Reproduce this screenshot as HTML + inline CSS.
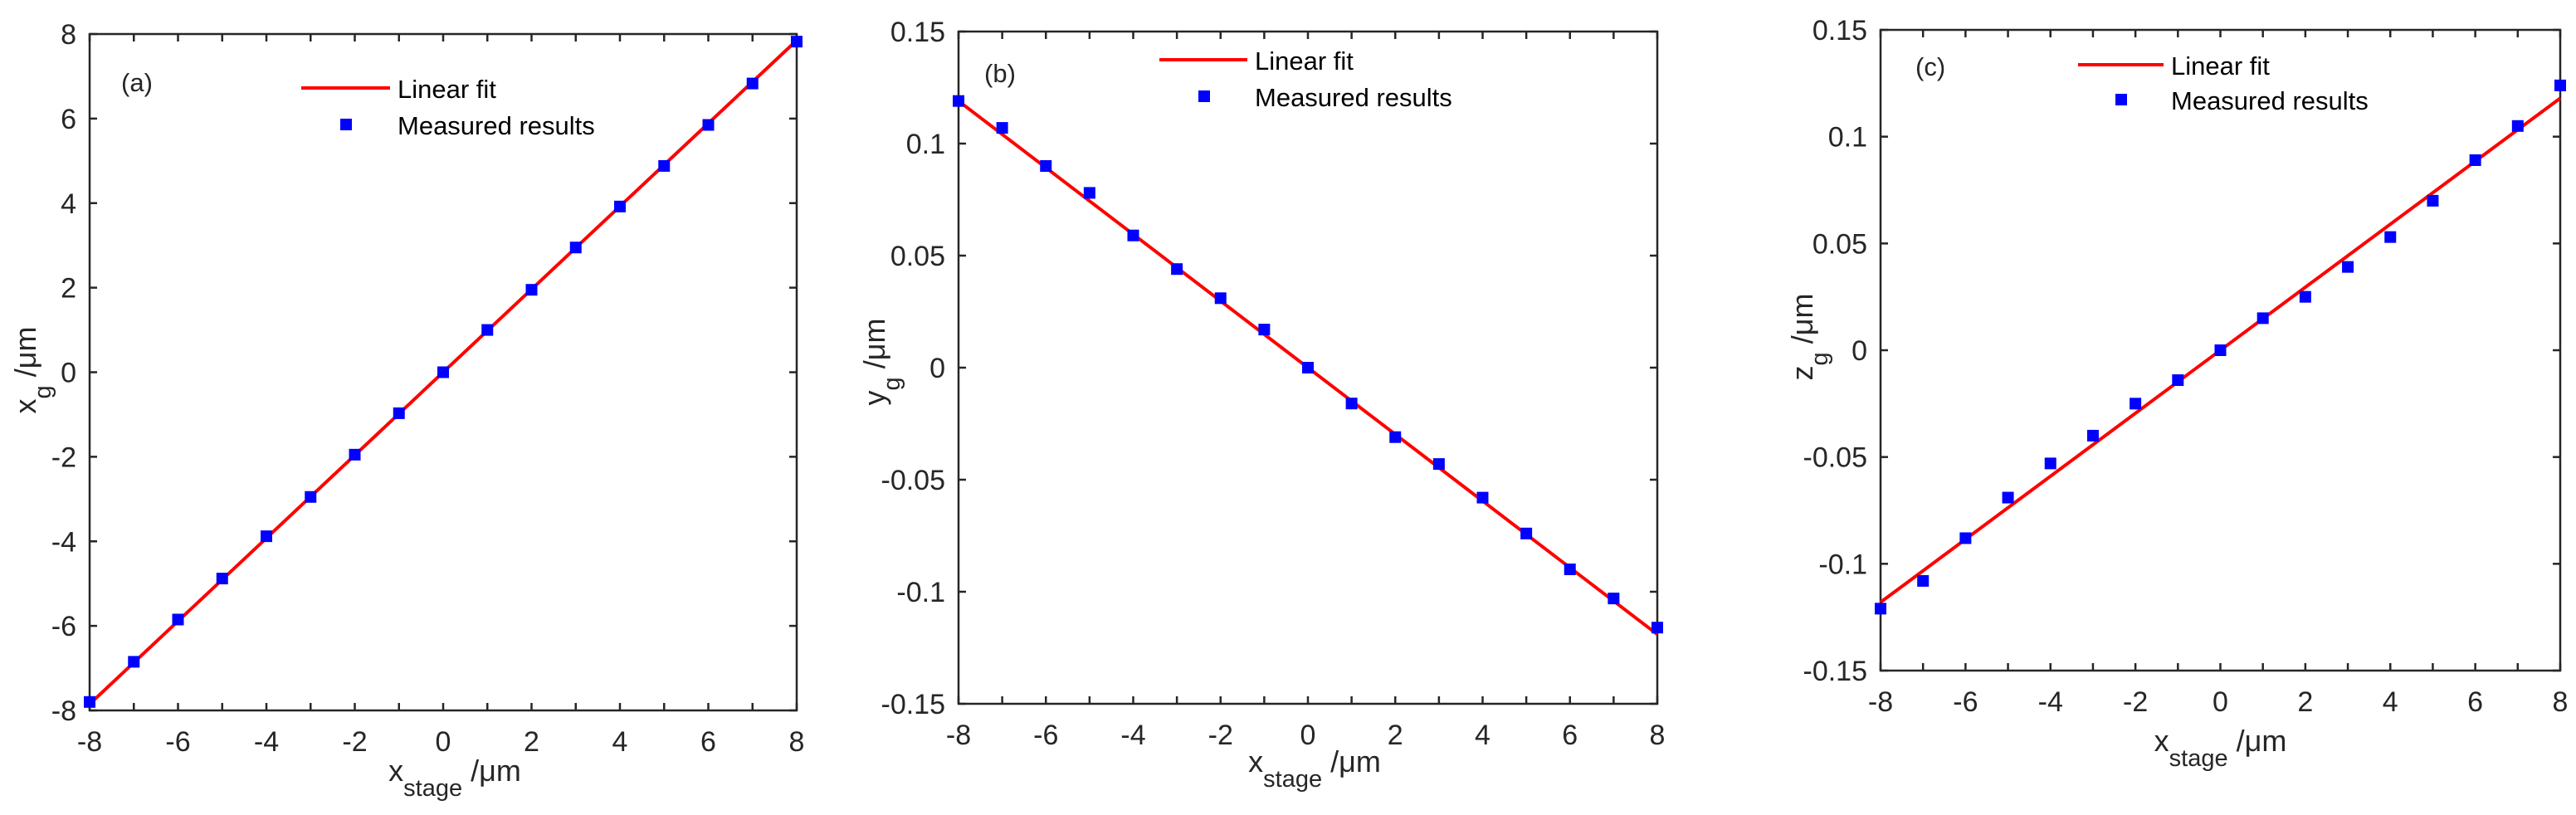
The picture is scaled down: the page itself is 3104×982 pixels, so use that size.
<!DOCTYPE html>
<html><head><meta charset="utf-8"><style>
html,body{margin:0;padding:0;background:#fff;}
svg{display:block;font-family:"Liberation Sans",Arial,sans-serif;}
</style></head><body>
<svg id="chart" width="3104" height="982" viewBox="0 0 3104 982" xmlns="http://www.w3.org/2000/svg"></svg>
<script>
const xValues = [-8,-7,-6,-5,-4,-3,-2,-1,0,1,2,3,4,5,6,7,8];
const xTickLabels = [-8,-6,-4,-2,0,2,4,6,8];
const seriesA = [-7.8,-6.85,-5.85,-4.88,-3.88,-2.95,-1.95,-0.97,0,1.0,1.95,2.95,3.92,4.88,5.85,6.83,7.82];
const fitA = [-7.85,7.85];
const yTicksA = [-8,-6,-4,-2,0,2,4,6,8];
const seriesB = [0.119,0.107,0.090,0.078,0.059,0.044,0.031,0.017,0,-0.016,-0.031,-0.043,-0.058,-0.074,-0.090,-0.103,-0.116];
const fitB = [0.119,-0.119];
const yTicksB = [-0.15,-0.1,-0.05,0,0.05,0.1,0.15];
const seriesC = [-0.121,-0.108,-0.088,-0.069,-0.053,-0.040,-0.025,-0.014,0,0.015,0.025,0.039,0.053,0.070,0.089,0.105,0.124];
const fitC = [-0.118,0.118];
const yTicksC = [-0.15,-0.1,-0.05,0,0.05,0.1,0.15];

const svg = document.getElementById('chart');
const NS = 'http://www.w3.org/2000/svg';
function mk(tag, attrs, parent){const e=document.createElementNS(NS,tag);for(const k in attrs)e.setAttribute(k,attrs[k]);(parent||svg).appendChild(e);return e;}
const C='#262626';

function panel(id, box, yMin, yMax, yTicks, pts, fit, yVar, tag, leg){
  const g = mk('g',{});
  
  
  const sx = v => box.l + (v+8)/16*(box.r-box.l);
  const sy = v => box.b - (v-yMin)/(yMax-yMin)*(box.b-box.t);
  const fmt = v => (Math.abs(v)<1e-9?0:v).toString();
  const fr = mk('rect',{x:box.l,y:box.t,width:box.r-box.l,height:box.b-box.t,fill:'none',stroke:C,'stroke-width':2.5},g);
  
  
  xValues.forEach(v=>{
    const x=sx(v);
    mk('line',{x1:x,y1:box.b,x2:x,y2:box.b-9,stroke:C,'stroke-width':2.5},g);
    mk('line',{x1:x,y1:box.t,x2:x,y2:box.t+9,stroke:C,'stroke-width':2.5},g);
  });
  xTickLabels.forEach(v=>{
    const t=mk('text',{x:sx(v),y:box.b+49,'font-size':34,fill:C,'text-anchor':'middle'},g);
    t.textContent=String(v);
    
    
  });
  yTicks.forEach(v=>{
    const y=sy(v);
    mk('line',{x1:box.l,y1:y,x2:box.l+9,y2:y,stroke:C,'stroke-width':2.5},g);
    mk('line',{x1:box.r,y1:y,x2:box.r-9,y2:y,stroke:C,'stroke-width':2.5},g);
    const t=mk('text',{x:box.l-16,y:y+12,'font-size':34,fill:C,'text-anchor':'end'},g);
    t.textContent=fmt(v);
    
    
  });
  const cx=(box.l+box.r)/2+box.xo;
  const xt=mk('text',{x:cx,y:box.b+box.xb,'font-size':36,fill:C,'text-anchor':'middle'},g);
  xt.innerHTML='x<tspan font-size="29" dy="18">stage</tspan><tspan dy="-18"> /μm</tspan>';
  
  
  const yt=mk('text',{x:0,y:0,'font-size':36,fill:C,'text-anchor':'middle',transform:`translate(${box.yl},${box.yc}) rotate(-90)`},g);
  yt.innerHTML=yVar+'<tspan font-size="29" dy="18">g</tspan><tspan dy="-18"> /μm</tspan>';
  
  
  const fl=mk('line',{x1:sx(-8),y1:sy(fit[0]),x2:sx(8),y2:sy(fit[1]),stroke:'#ff0000','stroke-width':4},g);
  
  
  pts.forEach((v,i)=>{
    const r=mk('rect',{x:sx(xValues[i])-7,y:sy(v)-7,width:14,height:14,fill:'#0000ff'},g);
    
    
  });
  const tg=mk('text',{x:leg.tx,y:leg.ty+11,'font-size':31,fill:C},g);
  tg.textContent=tag;
  
  
  const lg=mk('g',{},g);
  
  
  mk('line',{x1:leg.l1,y1:leg.y1,x2:leg.l2,y2:leg.y1,stroke:'#ff0000','stroke-width':4},lg);
  const t1=mk('text',{x:leg.txt,y:leg.y1+12,'font-size':31,fill:'#000'},lg);
  t1.textContent='Linear fit';
  
  
  mk('rect',{x:leg.mx-7,y:leg.y2-7,width:14,height:14,fill:'#0000ff'},lg);
  const t2=mk('text',{x:leg.txt,y:leg.y2+12,'font-size':31,fill:'#000'},lg);
  t2.textContent='Measured results';
  
  
}

panel('a',{l:108,r:960,t:41,b:856,yl:43,yc:446,xo:14,xb:85},-8,8,yTicksA,seriesA,fitA,'x','(a)',
  {tx:146,ty:99,l1:363,l2:470,y1:106,txt:479,mx:417,y2:150});
panel('b',{l:1155,r:1997,t:38,b:848,yl:1066,yc:436,xo:8,xb:82},-0.15,0.15,yTicksB,seriesB,fitB,'y','(b)',
  {tx:1186,ty:88,l1:1397,l2:1503,y1:72,txt:1512,mx:1451,y2:116});
panel('c',{l:2266,r:3085,t:36,b:808,yl:2184,yc:406,xo:0,xb:97},-0.15,0.15,yTicksC,seriesC,fitC,'z','(c)',
  {tx:2308,ty:80,l1:2504,l2:2607,y1:78,txt:2616,mx:2556,y2:120});
</script>
</body></html>
